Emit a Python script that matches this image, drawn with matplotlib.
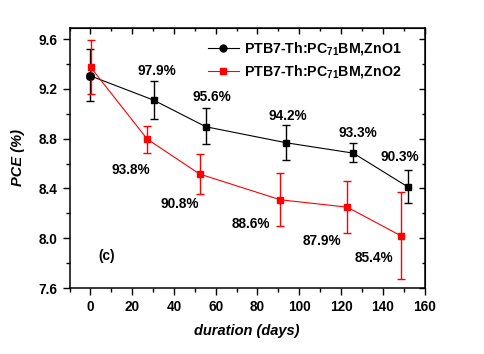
import matplotlib
matplotlib.use('Agg')
import matplotlib.pyplot as plt
from matplotlib.lines import Line2D
from matplotlib.ticker import MultipleLocator

plt.rcParams['font.family'] = ['Liberation Sans', 'DejaVu Sans']
plt.rcParams['font.weight'] = 'bold'
plt.rcParams['mathtext.default'] = 'regular'

# dados
dias1 = [0, 30.3, 55.3, 93.9, 125.9, 151.9]
pce1 = [9.305, 9.11, 8.896, 8.767, 8.684, 8.414]
err1_sup = [0.215, 0.15, 0.148, 0.14, 0.078, 0.131]
err1_inf = [0.205, 0.15, 0.142, 0.141, 0.074, 0.134]
rot1 = ['97.9%', '95.6%', '94.2%', '93.3%', '90.3%']
pos1_x = [32, 58, 94.7, 128, 148]
pos1_y = [9.343, 9.137, 8.984, 8.843, 8.654]

dias2 = [0.1, 27.2, 52.3, 91.0, 123.0, 148.9]
pce2 = [9.375, 8.797, 8.516, 8.309, 8.25, 8.018]
err2_sup = [0.222, 0.107, 0.158, 0.212, 0.207, 0.35]
err2_inf = [0.219, 0.113, 0.161, 0.214, 0.21, 0.346]
rot2 = ['93.8%', '90.8%', '88.6%', '87.9%', '85.4%']
pos2_x = [19.3, 42.7, 76.7, 111, 136]
pos2_y = [8.548, 8.272, 8.114, 7.977, 7.843]

nome1 = 'PTB7-Th:PC$_{71}$BM,ZnO1'
nome2 = 'PTB7-Th:PC$_{71}$BM,ZnO2'

fig = plt.figure(figsize=(4.84, 3.54), dpi=100)
ax = fig.add_axes([0.1436, 0.1864, 0.7335, 0.7346])

ax.errorbar(dias1, pce1, yerr=[err1_inf, err1_sup], color='black', lw=0.8,
            marker='s', ms=5, capsize=2.8, elinewidth=1, capthick=1)
ax.plot(dias1[0], pce1[0], 'o', color='black', ms=5.5)
ax.errorbar(dias2, pce2, yerr=[err2_inf, err2_sup], color='red', lw=0.8,
            marker='s', ms=5, capsize=2.8, elinewidth=1, capthick=1)

for x, y, t in zip(pos1_x, pos1_y, rot1):
    ax.text(x, y, t, ha='center', va='center', fontsize=9.8, fontweight='bold')
for x, y, t in zip(pos2_x, pos2_y, rot2):
    ax.text(x, y, t, ha='center', va='center', fontsize=9.8, fontweight='bold')
ax.text(7.8, 7.857, '(c)', ha='center', va='center', fontsize=9.8, fontweight='bold')

alcas = [Line2D([], [], color='black', lw=0.8, marker='o', ms=5),
         Line2D([], [], color='red', lw=0.8, marker='s', ms=5)]
ax.legend(alcas, [nome1, nome2], loc='upper left', bbox_to_anchor=(0.365, 0.985),
          frameon=False, handlelength=2.2, handletextpad=0.35,
          labelspacing=0.4, borderaxespad=0.2, prop={'weight': 'bold', 'size': 10.2})

ax.set_xlim(-10, 160)
ax.set_ylim(7.6, 9.69)
ax.xaxis.set_major_locator(MultipleLocator(20))
ax.xaxis.set_minor_locator(MultipleLocator(10))
ax.yaxis.set_major_locator(MultipleLocator(0.4))
ax.yaxis.set_minor_locator(MultipleLocator(0.2))
ax.tick_params(which='both', direction='out', labelsize=9.8, width=1)
ax.tick_params(which='major', length=5)
ax.tick_params(which='minor', length=3)
for s in ax.spines.values():
    s.set_linewidth(1.1)

# eixos espelhados com ticks para dentro
sec_x = ax.secondary_xaxis('top')
sec_x.xaxis.set_major_locator(MultipleLocator(20))
sec_x.xaxis.set_minor_locator(MultipleLocator(10))
sec_x.tick_params(which='both', direction='in', labeltop=False, width=1)
sec_x.tick_params(which='major', length=4)
sec_x.tick_params(which='minor', length=2.5)
sec_y = ax.secondary_yaxis('right')
sec_y.yaxis.set_major_locator(MultipleLocator(0.4))
sec_y.yaxis.set_minor_locator(MultipleLocator(0.2))
sec_y.tick_params(which='both', direction='in', labelright=False, width=1)
sec_y.tick_params(which='major', length=4)
sec_y.tick_params(which='minor', length=2.5)

for lab in ax.get_xticklabels() + ax.get_yticklabels():
    lab.set_fontweight('bold')

ax.set_xlabel('duration (days)', fontsize=10.5, fontweight='bold', style='italic', labelpad=7)
ax.set_ylabel('PCE (%)', fontsize=10.5, fontweight='bold', style='italic', labelpad=10)

fig.savefig('out.png', dpi=100)
